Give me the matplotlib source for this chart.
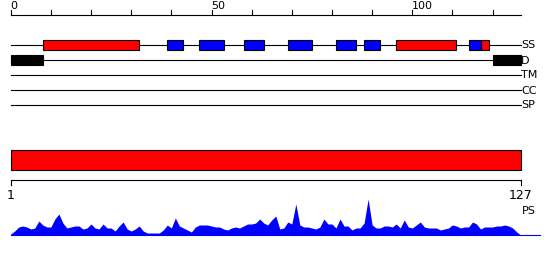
import numpy as np
import matplotlib
matplotlib.use("Agg")
import matplotlib.pyplot as plt
from matplotlib.patches import Rectangle

# Sequence length and track data (residue positions)
SEQ_LEN = 127
ruler_labels = [0, 50, 100]
track_names = ["SS", "D", "TM", "CC", "SP"]

helix_segments = [(8, 32), (96, 111), (117, 119)]
strand_segments = [(39, 43), (47, 53), (58, 63), (69, 75), (81, 86), (88, 92), (114, 117)]
disorder_segments = [(0, 8), (120, 127)]
domain_segments = [(0, 127)]

# per-residue profile (residues 1..127)
profile = [
    1, 4, 8, 9, 8, 6, 7, 14, 10, 8,
    8, 16, 21, 12, 7, 8, 9, 9, 6, 7,
    11, 7, 6, 11, 7, 7, 4, 9, 13, 6,
    4, 6, 9, 4, 2, 2, 2, 2, 5, 10,
    7, 17, 9, 7, 5, 3, 8, 10, 10, 10,
    9, 8, 8, 6, 5, 7, 8, 7, 9, 11,
    11, 12, 16, 12, 10, 15, 19, 6, 7, 13,
    11, 31, 10, 8, 8, 7, 6, 8, 16, 11,
    11, 7, 16, 9, 9, 5, 7, 7, 12, 36,
    10, 7, 7, 9, 9, 8, 11, 7, 15, 8,
    7, 10, 13, 8, 7, 7, 7, 5, 6, 7,
    10, 9, 7, 8, 8, 13, 11, 6, 8, 8,
    8, 9, 9, 10, 9, 7, 3, 0,
]

# pixel layout
PX0 = 10.7
PX_PER_RES = 4.016
track_y = [45, 60, 75, 90, 105]
BOX_H = 10

fig = plt.figure(figsize=(5.5, 2.6), dpi=100)
ax = fig.add_axes([0, 0, 1, 1])
ax.set_xlim(-PX0 / PX_PER_RES, (550 - PX0) / PX_PER_RES)
ax.set_ylim(260, 0)
ax.axis("off")

lw = 0.8

# top ruler
ax.plot([0, SEQ_LEN], [15, 15], color="black", lw=lw)
for t in range(0, SEQ_LEN, 10):
    ax.plot([t, t], [10, 15], color="black", lw=lw)
for t in ruler_labels:
    ax.text(t, 11, str(t), ha="left", va="bottom", fontsize=8, color="black")

# tracks
for name, y in zip(track_names, track_y):
    ax.plot([0, SEQ_LEN], [y, y], color="black", lw=lw, zorder=1)
    ax.text(SEQ_LEN + 0.1, y + 0.5, name, ha="left", va="center", fontsize=8)


def draw_boxes(segs, y, color):
    for s, e in segs:
        ax.add_patch(Rectangle((s, y - BOX_H / 2), e - s, BOX_H,
                               facecolor=color, edgecolor="black", lw=lw, zorder=2))


draw_boxes(helix_segments, track_y[0], "#ff0000")
draw_boxes(strand_segments, track_y[0], "#0000ff")
draw_boxes(disorder_segments, track_y[1], "black")

# domain bar
for s, e in domain_segments:
    ax.add_patch(Rectangle((s, 150), e - s, 20, facecolor="#ff0000",
                           edgecolor="black", lw=lw, zorder=2))

# bottom ruler
ax.plot([0, SEQ_LEN], [180, 180], color="black", lw=lw)
ax.plot([0, 0], [180, 185], color="black", lw=lw)
ax.plot([SEQ_LEN, SEQ_LEN], [180, 185], color="black", lw=lw)
ax.text(0, 189, "1", ha="center", va="top", fontsize=9)
ax.text(SEQ_LEN, 189, str(SEQ_LEN), ha="center", va="top", fontsize=9)
ax.text(SEQ_LEN + 0.2, 211, "PS", ha="left", va="center", fontsize=8)

# profile
base = 235
pos = np.arange(len(profile))
vals = np.array(profile, dtype=float)
ax.fill_between(pos, base, base - vals, color="#0000ff", lw=0)
ax.plot([0, (540 - PX0) / PX_PER_RES], [base, base], color="#0000ff", lw=lw)

plt.savefig("out.png", dpi=100)
